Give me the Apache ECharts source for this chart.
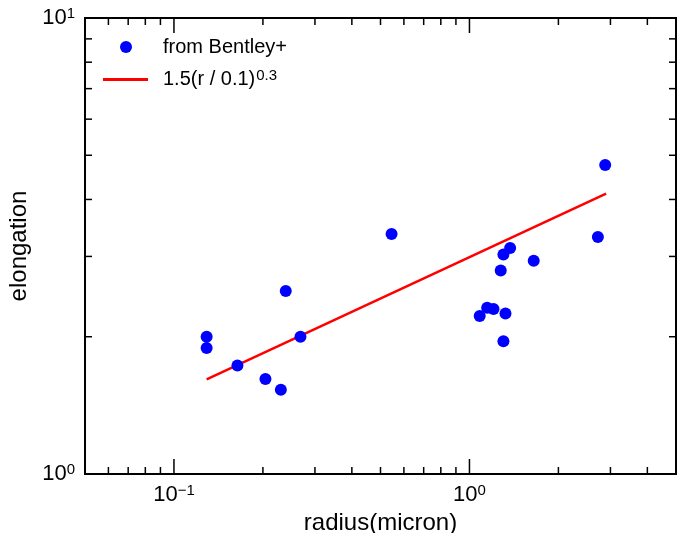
<!DOCTYPE html>
<html>
<head>
<meta charset="utf-8">
<script src="https://cdn.jsdelivr.net/npm/echarts@6/dist/echarts.min.js"></script>
<style>
  html, body { margin: 0; padding: 0; background: #fff; }
  #main { width: 686px; height: 533px; }
</style>
</head>
<body>
<div id="main"></div>
<script>
// measured points (radius in micron, elongation)
var radius = [0.129, 0.129, 0.164, 0.204, 0.230, 0.239, 0.268, 0.545,
  2.88, 2.72, 1.373, 1.303, 1.276, 1.65, 1.148, 1.206, 1.083, 1.324, 1.303];
var elong = [2.00, 1.89, 1.73, 1.615, 1.53, 2.52, 2.00, 3.36,
  4.76, 3.31, 3.13, 3.03, 2.795, 2.935, 2.315, 2.30, 2.22, 2.25, 1.954];

// fit line end points
var fitR = [0.129, 2.90];
var fitE = [1.613, 4.12];

// tick values
var xMajor = [0.1, 1];
var xMinor = [0.06, 0.07, 0.08, 0.09, 0.2, 0.3, 0.4, 0.5, 0.6, 0.7, 0.8, 0.9, 2, 3, 4];
var yMinor = [2, 3, 4, 5, 6, 7, 8, 9];

var FONT = 'Liberation Sans, Arial, Helvetica, sans-serif';

var scatterData = radius.map(function (r, i) { return [r, elong[i]]; });
var fitData = fitR.map(function (r, i) { return [r, fitE[i]]; });

var xTickData = xMajor.map(function (v) { return [v, 1, 15]; })
  .concat(xMinor.map(function (v) { return [v, 1, 7]; }));
var yTickData = yMinor.map(function (v) { return [0.05, v, 7]; });

function powLabel(v) {
  var lg = Math.log10(v);
  var e = Math.round(lg);
  if (Math.abs(lg - e) > 1e-6) return '';
  return '{b|10}{s|' + (e < 0 ? '\u2212' + (-e) : e) + '}';
}

var labelRich = {
  b: { fontSize: 22, fontFamily: FONT, color: '#000', lineHeight: 24 },
  s: { fontSize: 15, fontFamily: FONT, color: '#000', lineHeight: 15, verticalAlign: 'top' }
};

var chart = echarts.init(document.getElementById('main'), null, { renderer: 'canvas' });

chart.setOption({
  animation: false,
  backgroundColor: '#fff',
  grid: {
    left: 85, right: 10, top: 18, bottom: 59,
    containLabel: false, outerBoundsMode: 'none',
    show: true, borderColor: '#000', borderWidth: 2, backgroundColor: 'transparent'
  },
  legend: [{
    data: ['from Bentley+'],
    left: 120, top: 37, padding: 0,
    icon: 'circle', itemWidth: 12, itemHeight: 12,
    formatter: function (n) { return '{a|' + n + '}'; },
    textStyle: {
      fontSize: 20, fontFamily: FONT, color: '#000',
      rich: { a: { fontSize: 20, fontFamily: FONT, color: '#000', padding: [0, 0, 0, 26] } }
    }
  }, {
    data: ['fit'],
    left: 103, top: 68, padding: 0,
    icon: 'rect', itemWidth: 45, itemHeight: 3,
    formatter: function () { return '{a|1.5(r / 0.1)}{s|0.3}'; },
    textStyle: {
      fontSize: 20, fontFamily: FONT, color: '#000',
      rich: {
        a: { fontSize: 20, fontFamily: FONT, color: '#000', lineHeight: 23, padding: [0, 1, 0, 10] },
        s: { fontSize: 15, fontFamily: FONT, color: '#000', lineHeight: 15, verticalAlign: 'top' }
      }
    }
  }],
  xAxis: {
    type: 'log', logBase: 10, min: 0.05, max: 5,
    name: 'radius(micron)', nameLocation: 'middle', nameGap: 32,
    nameTextStyle: { fontSize: 24, fontFamily: FONT, color: '#000' },
    axisLine: { show: false },
    axisTick: { show: false },
    splitLine: { show: false },
    minorTick: { show: false },
    axisLabel: { margin: 9, formatter: powLabel, rich: labelRich, showMinLabel: true, showMaxLabel: true }
  },
  yAxis: {
    type: 'log', logBase: 10, min: 1, max: 10,
    name: 'elongation', nameLocation: 'middle', nameGap: 47,
    nameTextStyle: { fontSize: 24, fontFamily: FONT, color: '#000' },
    axisLine: { show: false },
    axisTick: { show: false },
    splitLine: { show: false },
    axisLabel: { margin: 10, formatter: powLabel, rich: labelRich }
  },
  series: [{
    name: 'from Bentley+',
    type: 'scatter',
    data: scatterData,
    symbolSize: 12,
    itemStyle: { color: '#0000ff', opacity: 1 },
    z: 3
  }, {
    name: 'fit',
    type: 'line',
    data: fitData,
    showSymbol: false,
    symbol: 'none',
    lineStyle: { color: '#ff0000', width: 2.5 },
    itemStyle: { color: '#ff0000' },
    z: 2
  }, {
    type: 'custom',
    silent: true,
    clip: false,
    data: xTickData,
    renderItem: function (params, api) {
      var cs = params.coordSys;
      var x = api.coord([api.value(0), api.value(1)])[0];
      var len = api.value(2);
      var b = cs.y + cs.height, t = cs.y;
      return {
        type: 'group',
        children: [
          { type: 'line', shape: { x1: x, y1: b, x2: x, y2: b - len }, style: { stroke: '#000', lineWidth: 1.5 } },
          { type: 'line', shape: { x1: x, y1: t, x2: x, y2: t + len }, style: { stroke: '#000', lineWidth: 1.5 } }
        ]
      };
    }
  }, {
    type: 'custom',
    silent: true,
    clip: false,
    data: yTickData,
    renderItem: function (params, api) {
      var cs = params.coordSys;
      var y = api.coord([api.value(0), api.value(1)])[1];
      var len = api.value(2);
      var l = cs.x, r = cs.x + cs.width;
      return {
        type: 'group',
        children: [
          { type: 'line', shape: { x1: l, y1: y, x2: l + len, y2: y }, style: { stroke: '#000', lineWidth: 1.5 } },
          { type: 'line', shape: { x1: r, y1: y, x2: r - len, y2: y }, style: { stroke: '#000', lineWidth: 1.5 } }
        ]
      };
    }
  }]
});
</script>
</body>
</html>
